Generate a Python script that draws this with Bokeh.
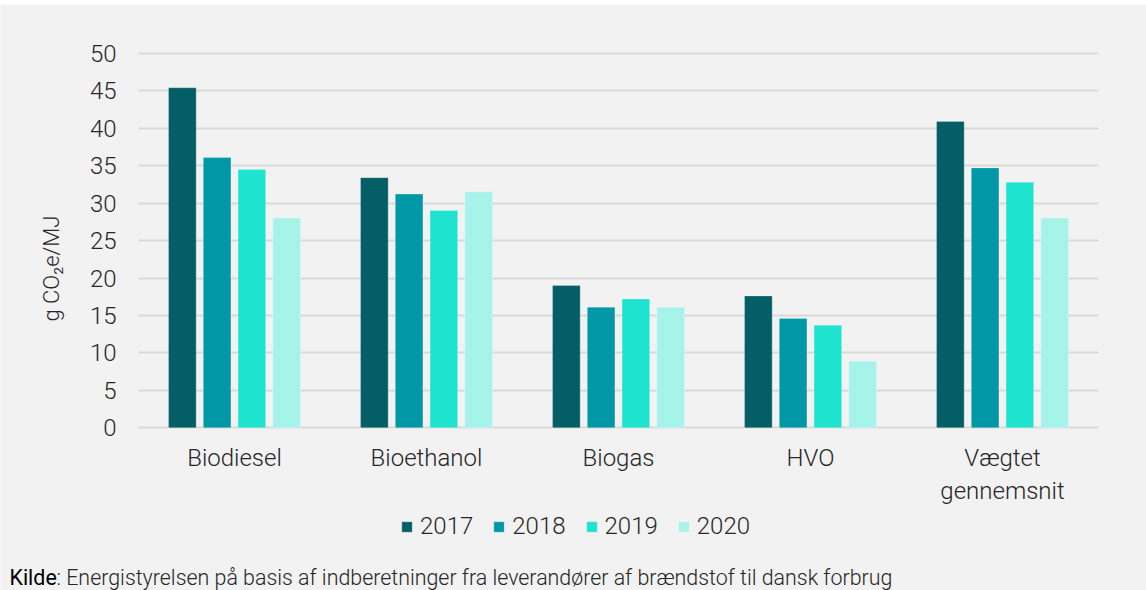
import math
from bokeh.plotting import figure
from bokeh.models import Range1d, Label, ColumnDataSource, FixedTicker, Legend, LegendItem
from bokeh.transform import dodge
from bokeh.embed import file_html
from bokeh.resources import INLINE

categories = ["Biodiesel", "Bioethanol", "Biogas", "HVO", "Vægtet\ngennemsnit"]
years = ["2017", "2018", "2019", "2020"]
v2017 = [45.4, 33.4, 19.0, 17.6, 40.9]
v2018 = [36.1, 31.2, 16.1, 14.6, 34.7]
v2019 = [34.5, 29.0, 17.2, 13.7, 32.8]
v2020 = [28.0, 31.5, 16.1, 8.9, 28.0]
y_ticks = [0, 5, 10, 15, 20, 25, 30, 35, 40, 45, 50]
colors = ["#045e66", "#0097a7", "#1ee3cf", "#a6f3ea"]
y_label = "g CO\u2082e/MJ"
source_bold = "Kilde"
source_text = ": Energistyrelsen på basis af indberetninger fra leverandører af brændstof til dansk forbrug"

FONT = "'Roboto Light', Roboto"
BG = "#f2f2f2"
TXT = "#262626"

# page geometry (pixels)
W, H = 1146, 590
TOP = 4               # white strip above the grey panel
CAT_PX = 192.0        # width of one category slot
CAT0_PX = 234.0       # centre of first category
ZERO_PX = 427.3       # y pixel of value 0
UNIT_PX = 7.49        # pixels per value unit

def dx(px):
    return (px - CAT0_PX) / CAT_PX
def dy(py):
    return (ZERO_PX - py) / UNIT_PX

idx = list(range(len(categories)))
src = ColumnDataSource(dict(xi=idx, y2017=v2017, y2018=v2018, y2019=v2019, y2020=v2020))

p = figure(x_range=Range1d(dx(0), dx(W)), y_range=Range1d(dy(H), dy(TOP)),
           width=W, height=H, output_backend="svg", toolbar_location=None,
           min_border=0, min_border_top=TOP)
p.background_fill_color = BG
p.border_fill_color = "white"
p.outline_line_color = None

# grid limited to the category block
cat_lo, cat_hi = -0.5, len(categories) - 0.5
p.xgrid.grid_line_color = None
if "cross_bounds" in p.ygrid.properties():
    p.ygrid.ticker = FixedTicker(ticks=y_ticks)
    p.ygrid.cross_bounds = (cat_lo, cat_hi)
    p.ygrid.grid_line_color = "#d9d9d9"
    p.ygrid.grid_line_width = 2
else:
    p.ygrid.grid_line_color = None
    p.segment(x0=[cat_lo] * len(y_ticks), x1=[cat_hi] * len(y_ticks), y0=y_ticks, y1=y_ticks,
              line_color="#d9d9d9", line_width=2)

offsets = [-0.2716, -0.0905, 0.0905, 0.2716]
renderers = []
for yr, off, col in zip(years, offsets, colors):
    r = p.vbar(x=dodge("xi", off), top="y" + yr, width=0.144, source=src,
               fill_color=col, line_color="white", line_alpha=0.25, line_width=1)
    renderers.append(r)

xa, ya = p.xaxis[0], p.yaxis[0]
xa.fixed_location = 0
ya.fixed_location = cat_lo
xa.ticker = FixedTicker(ticks=idx)
xa.major_label_overrides = {i: c for i, c in zip(idx, categories)}
ya.ticker = FixedTicker(ticks=y_ticks)
for ax in (xa, ya):
    ax.axis_line_color = None
    ax.major_tick_line_color = None
    ax.minor_tick_line_color = None
    ax.major_tick_out = 0
    ax.major_tick_in = 0
    ax.major_label_text_font = FONT
    ax.major_label_text_color = TXT
    ax.major_label_text_font_size = "24px"
ya.major_label_standoff = 22
xa.major_label_standoff = 16

p.add_layout(Label(x=dx(51), y=dy(268), text=y_label, angle=math.pi / 2,
                   text_font=FONT, text_font_size="22px", text_color=TXT,
                   text_align="center", text_baseline="middle"))

leg = Legend(items=[LegendItem(label=yr, renderers=[r]) for yr, r in zip(years, renderers)],
             orientation="horizontal", location=(400, 50))
leg.glyph_width = 13
leg.glyph_height = 13
leg.label_standoff = 7
leg.spacing = 19
leg.padding = 0
leg.margin = 0
leg.border_line_color = None
leg.background_fill_alpha = 0
leg.label_text_font = FONT
leg.label_text_font_size = "24px"
leg.label_text_color = TXT
p.add_layout(leg, "center")

p.add_layout(Label(x=dx(9), y=dy(577), text=source_bold, text_font="Roboto",
                   text_font_size="21.4px", text_color="#000000", text_baseline="middle"))
p.add_layout(Label(x=dx(56), y=dy(577), text=source_text, text_font=FONT,
                   text_font_size="21.4px", text_color=TXT, text_baseline="middle"))

open("out.html", "w").write(file_html(p, INLINE))
